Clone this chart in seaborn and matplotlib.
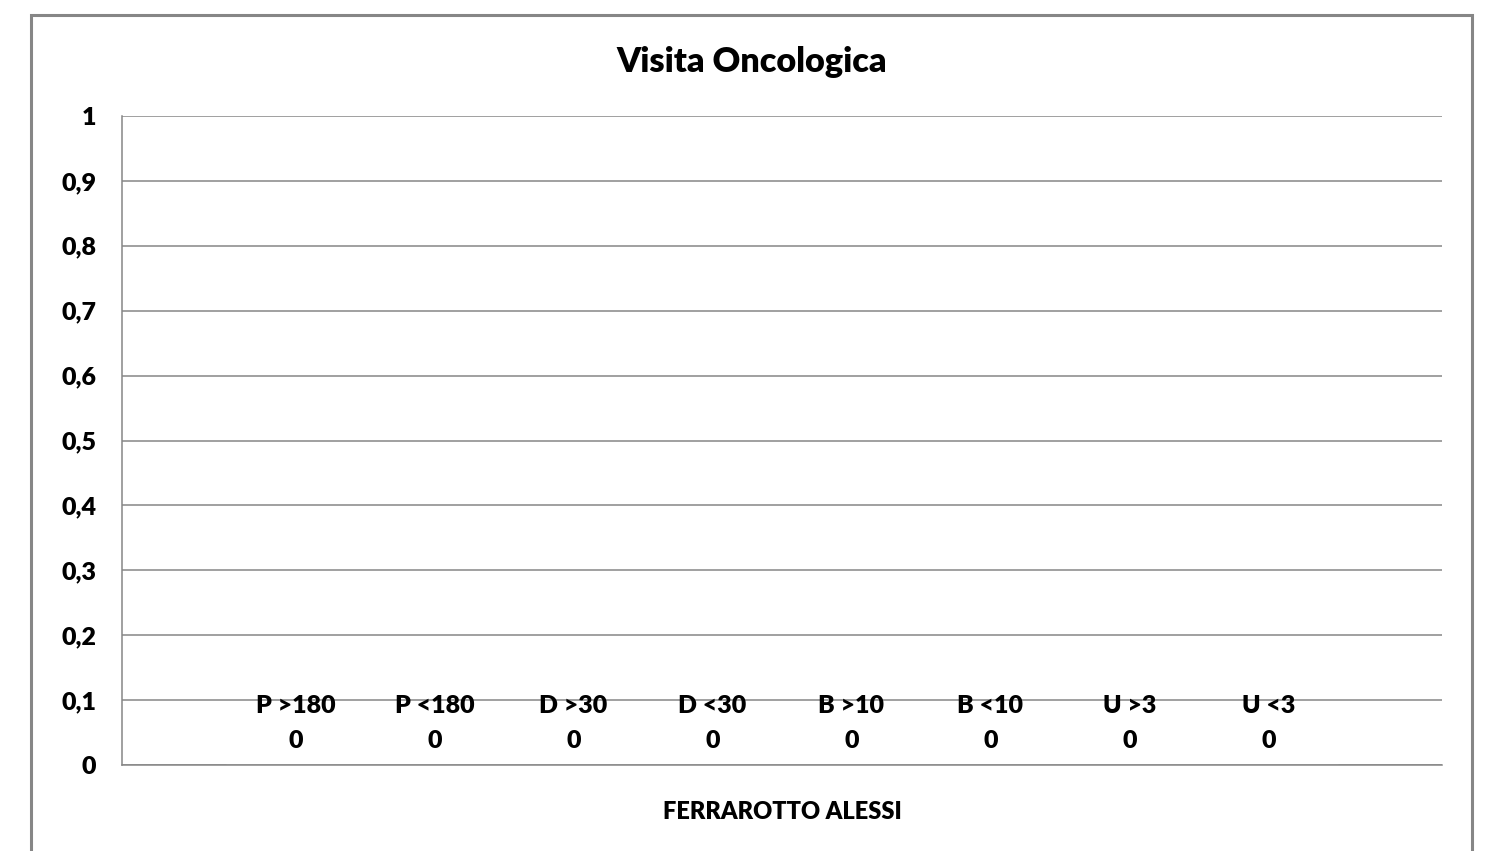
import matplotlib
matplotlib.use("Agg")
import matplotlib.pyplot as plt
import seaborn as sns
import pandas as pd
import numpy as np
from matplotlib.patches import Rectangle
from matplotlib.ticker import FuncFormatter, FixedLocator

# ---- data ----
title = "Visita Oncologica"
group = "FERRAROTTO ALESSI"
series = ["P >180", "P <180", "D >30", "D <30", "B >10", "B <10", "U >3", "U <3"]
values = [0, 0, 0, 0, 0, 0, 0, 0]
yticks = [0, 0.1, 0.2, 0.3, 0.4, 0.5, 0.6, 0.7, 0.8, 0.9, 1]

df = pd.DataFrame({"gruppo": [group] * len(series), "serie": series, "valore": values})

sns.set_theme(style="white")
plt.rcParams["font.family"] = ["Lato", "DejaVu Sans"]
plt.rcParams["font.weight"] = "bold"

W, H, DPI = 1488, 851, 100
fig = plt.figure(figsize=(W / DPI, H / DPI), dpi=DPI)
fig.patch.set_facecolor("white")

# plot area in pixels: x 122..1442, y 116..765
ax = fig.add_axes([122 / W, (H - 765) / H, (1442 - 122) / W, (765 - 116) / H])

grey = "#868686"
sns.barplot(data=df, x="gruppo", y="valore", hue="serie", hue_order=series,
            width=8 / 9.5, palette=["#4F81BD"] * len(series), legend=False, ax=ax)

ax.set_xlim(-0.5, 0.5)
ax.set_ylim(0, 1)
ax.set_yticks(yticks)
ax.yaxis.set_major_formatter(FuncFormatter(lambda v, p: ("%g" % round(v, 1)).replace(".", ",")))
ax.set_xlabel("")
ax.set_ylabel("")

ax.yaxis.grid(True, color=grey, linewidth=1.1)
ax.set_axisbelow(True)
for s in ["top", "right"]:
    ax.spines[s].set_visible(False)
for s in ["left", "bottom"]:
    ax.spines[s].set_color(grey)
    ax.spines[s].set_linewidth(1.1)

ax.tick_params(axis="y", direction="out", length=6.5, width=1.1, color=grey,
               pad=12, labelsize=18, labelcolor="black")
ax.tick_params(axis="x", which="major", length=0, pad=26, labelsize=17, labelcolor="black")
ax.xaxis.set_minor_locator(FixedLocator([-0.5, 0.5]))
ax.tick_params(axis="x", which="minor", direction="out", length=5, width=1.1, color=grey)
for lab in ax.get_xticklabels() + ax.get_yticklabels():
    lab.set_fontweight("heavy")

# data labels
for cont, name, val in zip(ax.containers, series, values):
    ax.bar_label(cont, labels=[f"{name}\n{val}"], padding=9.5, fontsize=18,
                 fontweight="heavy", color="black", linespacing=1.7)

fig.text(752 / W, (H - 62) / H, title, ha="center", va="center",
         fontsize=24.6, fontweight="heavy", color="black")

# chart border
fig.patches.append(Rectangle((31 / W, -0.05), (1472 - 31) / W, (H - 15) / H + 0.05,
                             transform=fig.transFigure, fill=False,
                             edgecolor=grey, linewidth=2.2, clip_on=False))

fig.savefig("out.png", dpi=DPI)
